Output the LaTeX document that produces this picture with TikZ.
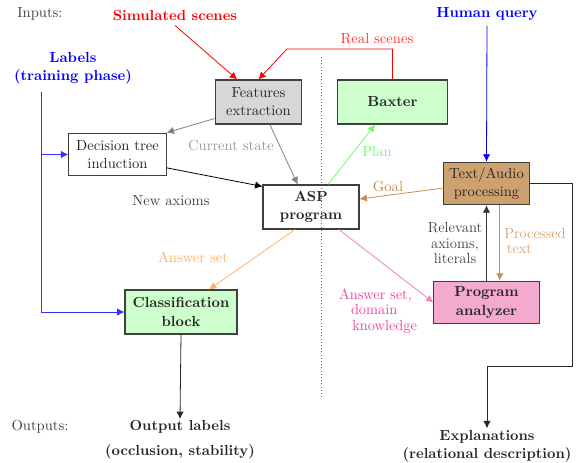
\documentclass[11pt,tikz,border=0pt]{standalone}
\usepackage{amsmath,amssymb}
\usetikzlibrary{arrows.meta}

\definecolor{boxgray}{RGB}{215,215,215}
\definecolor{boxgreen}{RGB}{204,255,204}
\definecolor{boxbrown}{RGB}{207,160,112}
\definecolor{boxpink}{RGB}{243,170,204}
\definecolor{txtbrown}{RGB}{200,140,80}
\definecolor{hotpink}{RGB}{236,60,150}
\definecolor{lightpink}{RGB}{240,130,180}

\tikzset{
	blk/.style={draw=black!75, line width=0.8pt, text=black!85, align=center, inner sep=2pt},
	lbl/.style={text=black!75, align=center, font=\fontsize{11}{11.5}\selectfont},
	>={Latex[length=5.5pt,width=5.5pt]}
}

\begin{document}
\begin{tikzpicture}[x=0.75pt, y=-0.75pt, semithick]
	\useasboundingbox (0,0) rectangle (576,463);
	
	% inputs
	\node [text=black!75] (inp) at (40,14) {Inputs:};
	\node [red, font=\bfseries] (sim) at (175,15) {Simulated scenes};
	\node [blue, font=\bfseries] (hq) at (487,14) {Human query};
	\node [blue, font=\bfseries, align=center] (lab) at (73,68) {Labels\\(training phase)};
	
	% blocks
	\node [blk, fill=boxgray, minimum width=65pt, minimum height=33pt] (fe) at (258.5,102) {Features\\extraction};
	\node [blk, fill=boxgreen, minimum width=82pt, minimum height=33pt, font=\bfseries] (bax) at (392.5,102) {Baxter};
	\node [blk, fill=white, minimum width=73pt, minimum height=32pt] (dt) at (117.5,154.5) {Decision tree\\induction};
	\node [blk, fill=white, minimum width=72pt, minimum height=33pt, font=\bfseries] (asp) at (311,207) {ASP\\program};
	\node [blk, fill=boxbrown, minimum width=65pt, minimum height=32pt] (ta) at (486.5,183.5) {Text/Audio\\processing};
	\node [blk, fill=boxpink, minimum width=79pt, minimum height=32pt, font=\bfseries] (pa) at (486.5,302.5) {Program\\analyzer};
	\node [blk, fill=boxgreen, minimum width=84pt, minimum height=33pt, font=\bfseries] (cb) at (181,312) {Classification\\block};
	
	% outputs
	\node [text=black!75] (outp) at (40,427) {Outputs:};
	\node [text=black!85, align=center, font=\bfseries, inner sep=1pt] (outl) at (180,440) {Output labels\\[5pt](occlusion, stability)};
	\node [text=black!85, align=center, font=\bfseries, inner sep=1pt] (expl) at (487,446) {Explanations\\(relational description)};
	
	\draw [black!60, dotted, thin] (321,57) -- (321,398);
	
	% red inputs
	\draw [red, ->] (sim.south) -- ([xshift=-16pt]fe.north);
	\draw [red, ->] (bax.north) |- (287,49) -- (fe.north);
	\node [red!80] (rs) at (377,39) {Real scenes};
	
	% labels
	\coordinate (lb) at (41,92);
	\draw [blue!80, ->] (lb) |- (cb.west);
	\draw [blue!80, ->] (lb |- dt.west) -- (dt.west);
	
	% connections
	\draw [black!50, ->] ([yshift=4.5pt]fe.south west) -- (dt.north east);
	\draw [black!50, ->] ([xshift=8.5pt]fe.south) -- ([xshift=-10pt]asp.north);
	\node [text=black!40] (cs) at (231,146) {Current state};
	
	\draw [->] ([yshift=-10pt]dt.east) -- ([yshift=-1.5pt]asp.north west);
	\node [text=black!75] (na) at (171,201) {New axioms};
	
	\draw [green!60, ->] ([xshift=12.75pt]asp.north) -- ([xshift=-13pt]bax.south);
	\node [green!60] (pl) at (377,152) {Plan};
	
	\draw [txtbrown, ->] ([yshift=-3.5pt]ta.west) -- ([yshift=6pt]asp.east);
	\node [txtbrown] (gl) at (388,187) {Goal};
	
	\draw [blue, ->] (hq.south) -- (ta.north);
	
	\draw [txtbrown, ->] ([xshift=10pt]ta.south) -- ([xshift=10pt]pa.north);
	\node [lbl, text=txtbrown!80, align=left, anchor=west] (pt) at (499,241) {Processed\\\hspace{2pt}text};
	
	\draw [black!80, ->] (pa.north) -- (ta.south);
	\node [lbl] (rel) at (455,243) {Relevant\\axioms,\\literals};
	
	\draw [lightpink, ->] ([xshift=21pt]asp.south) -- (pa.west);
	\node [lbl, text=hotpink, align=left] (ak) at (378,311) {Answer set,\\\hspace{9pt}domain\\\hspace{10pt}knowledge};
	
	\draw [orange!60, ->] ([xshift=-12pt]asp.south) -- ([xshift=21pt]cb.north);
	\node [orange!60] (as) at (193,257) {Answer set};
	
	\draw [black!85, ->] (cb.south) -- (outl.north);
	
	\coordinate (tr) at (572,366);
	\draw [black!85, ->] (ta.east) -| (tr) -| (expl.north);
	
\end{tikzpicture}
\end{document}
